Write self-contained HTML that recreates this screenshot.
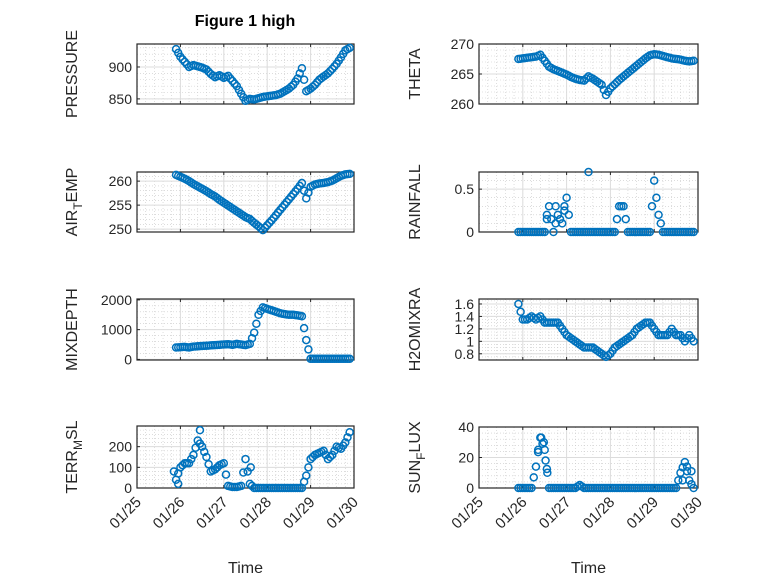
<!DOCTYPE html>
<html><head><meta charset="utf-8"><style>
html,body{margin:0;padding:0;background:#fff}
svg{display:block;font-family:"Liberation Sans",sans-serif}
</style></head><body>
<svg id="fig" width="778" height="583" viewBox="0 0 778 583" xmlns="http://www.w3.org/2000/svg">
<rect width="778" height="583" fill="#fff"/>
<text x="245" y="26" text-anchor="middle" font-size="16" font-weight="bold" fill="#000">Figure 1 high</text>
</svg>
<script>
// shared time axis (days after 01/25)
const times = [0.9,1.0,1.1,1.2,1.3,1.4,1.5,1.6,1.7,1.8,1.9,2.0,2.1,2.2,2.3,2.4,2.5,2.6,2.7,2.8,2.9,3.0,3.1,3.2,3.3,3.4,3.5,3.6,3.7,3.8,3.9,4.0,4.1,4.2,4.3,4.4,4.5,4.6,4.7,4.8,4.9];
const xTickLabels = ["01/25","01/26","01/27","01/28","01/29","01/30"];
const pressure = [928,916,908,900,903,901,899,896,889,884,887,883,886,878,870,858,847,850,849,851,853,854,855,856,858,862,866,872,882,898,862,866,872,880,885,890,897,905,915,926,930];
const theta = [267.5,267.6,267.7,267.8,267.9,268.2,267.2,266.2,265.8,265.5,265.2,264.9,264.5,264.2,264.0,263.9,264.6,264.2,263.7,263.2,261.5,262.6,263.3,264.0,264.6,265.2,265.8,266.4,267.0,267.6,268.1,268.3,268.2,268.0,267.8,267.6,267.5,267.4,267.2,267.1,267.2];
const airTemp = [261.3,260.9,260.5,260.0,259.4,258.9,258.4,257.9,257.3,256.8,256.1,255.5,254.9,254.3,253.7,253.1,252.5,252.1,251.3,250.6,249.8,250.8,251.8,252.9,254.0,255.1,256.2,257.3,258.4,259.6,256.4,258.8,259.3,259.5,259.6,259.8,260.1,260.6,261.1,261.4,261.5];
const rainfall = [0,0,0,0,0,0,0,0.3,0,0.2,0.1,0.4,0,0,0,0,0,0,0,0,0,0,0,0.3,0.3,0,0,0,0,0,0,0.6,0.2,0,0,0,0,0,0,0,0];
const rainSpikeTimes = [1.55,1.75,1.95,2.5];
const rainSpikeValues = [0.2,0.3,0.3,0.7];
const mixDepth = [400,410,420,400,430,440,450,460,470,480,490,500,510,490,520,500,480,520,900,1500,1750,1700,1650,1600,1550,1520,1500,1500,1480,1450,650,20,20,20,20,20,20,20,20,20,20];
const h2o = [1.6,1.35,1.35,1.4,1.35,1.4,1.3,1.3,1.3,1.3,1.2,1.1,1.05,1.0,0.95,0.9,0.9,0.9,0.85,0.8,0.75,0.8,0.9,0.95,1.0,1.05,1.1,1.2,1.25,1.3,1.3,1.2,1.1,1.1,1.1,1.2,1.1,1.1,1.0,1.1,1.0];
const terrMsl = [40,100,120,120,160,230,200,150,80,90,110,120,10,5,5,10,140,20,0,0,0,0,0,0,0,0,0,0,0,0,60,140,160,170,180,140,160,200,190,220,270];
const terrSpikeTimes = [0.85,0.95,1.45,2.62];
const terrSpikeValues = [80,20,280,100];
const sunFlux = [0,0,0,0,14,33,25,0,0,0,0,0,0,0,2,0,0,0,0,0,0,0,0,0,0,0,0,0,0,0,0,0,0,0,0,0,0,10,17,5,0];
const sunSpikeTimes = [1.35,1.42,1.48,1.52,1.56,4.65,4.75,4.85];
const sunSpikeValues = [25,33,30,18,10,5,14,11];

const NS="http://www.w3.org/2000/svg";
const svg=document.getElementById('fig');
function mk(tag,attrs,parent){const e=document.createElementNS(NS,tag);for(const k in attrs)e.setAttribute(k,attrs[k]);(parent||svg).appendChild(e);return e;}

const panels=[
 {name:'pressure',x0:137,x1:354,y0:44,y1:104,ymin:842,ymax:936,ticks:[850,900],minor:10,vals:pressure,label:['PRESSURE'],lx:77},
 {name:'theta',x0:479,x1:698,y0:44,y1:104,ymin:260,ymax:270,ticks:[260,265,270],minor:1,vals:theta,label:['THETA'],lx:420},
 {name:'air-temp',x0:137,x1:354,y0:172,y1:232,ymin:249.4,ymax:261.9,ticks:[250,255,260],minor:1,vals:airTemp,label:['AIR','T','EMP'],lx:77},
 {name:'rainfall',x0:479,x1:698,y0:172,y1:232,ymin:0,ymax:0.7,ticks:[0,0.5],minor:0.1,vals:rainfall,st:rainSpikeTimes,sv:rainSpikeValues,label:['RAINFALL'],lx:420},
 {name:'mixdepth',x0:137,x1:354,y0:299,y1:360,ymin:-20,ymax:2030,ticks:[0,1000,2000],minor:200,vals:mixDepth,label:['MIXDEPTH'],lx:77},
 {name:'h2o-mix-ratio',x0:479,x1:698,y0:299,y1:360,ymin:0.7,ymax:1.68,ticks:[0.8,1,1.2,1.4,1.6],minor:0.05,vals:h2o,label:['H2OMIXRA'],lx:420},
 {name:'terr-msl',x0:137,x1:354,y0:426,y1:488,ymin:0,ymax:300,ticks:[0,100,200],minor:20,vals:terrMsl,st:terrSpikeTimes,sv:terrSpikeValues,label:['TERR','M','SL'],lx:77,bottom:true},
 {name:'sun-flux',x0:479,x1:698,y0:427,y1:488,ymin:0,ymax:40,ticks:[0,20,40],minor:4,vals:sunFlux,st:sunSpikeTimes,sv:sunSpikeValues,label:['SUN','F','LUX'],lx:420,bottom:true}
];

panels.forEach(p=>{
 const g=mk('g',{});
 
 
 const sx=v=>p.x0+(v-0)/5*(p.x1-p.x0);
 const sy=v=>p.y1-(v-p.ymin)/(p.ymax-p.ymin)*(p.y1-p.y0);
 for(let d=0;d<=5.001;d+=0.2){const x=sx(d);mk('line',{x1:x,x2:x,y1:p.y0,y2:p.y1,stroke:'#c8c8c8','stroke-width':0.6,'stroke-dasharray':'1,2'},g);}
 const start=Math.ceil(p.ymin/p.minor)*p.minor;
 for(let v=start;v<=p.ymax+1e-9;v+=p.minor){const y=sy(v);mk('line',{x1:p.x0,x2:p.x1,y1:y,y2:y,stroke:'#c8c8c8','stroke-width':0.6,'stroke-dasharray':'1,2'},g);}
 xTickLabels.forEach((l,i)=>{const x=sx(i);mk('line',{x1:x,x2:x,y1:p.y0,y2:p.y1,stroke:'#dcdcdc','stroke-width':1},g);});
 p.ticks.forEach(v=>{const y=sy(v);mk('line',{x1:p.x0,x2:p.x1,y1:y,y2:y,stroke:'#dcdcdc','stroke-width':1},g);});
 mk('rect',{x:p.x0,y:p.y0,width:p.x1-p.x0,height:p.y1-p.y0,fill:'none',stroke:'#262626','stroke-width':1.2},g);
 xTickLabels.forEach((l,i)=>{const x=sx(i);mk('line',{x1:x,x2:x,y1:p.y1,y2:p.y1-3,stroke:'#262626'},g);mk('line',{x1:x,x2:x,y1:p.y0,y2:p.y0+3,stroke:'#262626'},g);
  if(p.bottom){const t=mk('text',{x:x+5,y:p.y1+15,'text-anchor':'end','font-size':15,fill:'#262626',transform:`rotate(-45 ${x+5} ${p.y1+15})`},g);t.textContent=l;
   
   }
 });
 p.ticks.forEach(v=>{const y=sy(v);mk('line',{x1:p.x0,x2:p.x0+3,y1:y,y2:y,stroke:'#262626'},g);
  const t=mk('text',{x:p.x0-5,y:y+5,'text-anchor':'end','font-size':14,fill:'#262626'},g);t.textContent=String(v);
  
  });
 const cy=(p.y0+p.y1)/2;
 const yl=mk('text',{x:p.lx,y:cy,'text-anchor':'middle','font-size':16,fill:'#262626',transform:`rotate(-90 ${p.lx} ${cy})`},g);
 
 
 if(p.label.length===1){yl.textContent=p.label[0];}
 else{const a=mk('tspan',{},yl);a.textContent=p.label[0];const b=mk('tspan',{dy:5,'font-size':12},yl);b.textContent=p.label[1];const c=mk('tspan',{dy:-5},yl);c.textContent=p.label[2];}
 if(p.bottom){const tl=mk('text',{x:(p.x0+p.x1)/2,y:573,'text-anchor':'middle','font-size':16,fill:'#262626'},g);tl.textContent='Time';
  
  }
 const mg=mk('g',{},g);
 
 
 const draw=(t,v)=>{const c=mk('circle',{cx:sx(t),cy:sy(v),r:3.5,fill:'none',stroke:'#0072BD','stroke-width':1.5},mg);
  
  };
 p.vals.forEach((v,i)=>{draw(times[i],v);if(i<times.length-1){draw((times[i]+times[i+1])/2,(v+p.vals[i+1])/2);}});
 if(p.st)p.st.forEach((t,i)=>draw(t,p.sv[i]));
});
</script>
</body></html>
